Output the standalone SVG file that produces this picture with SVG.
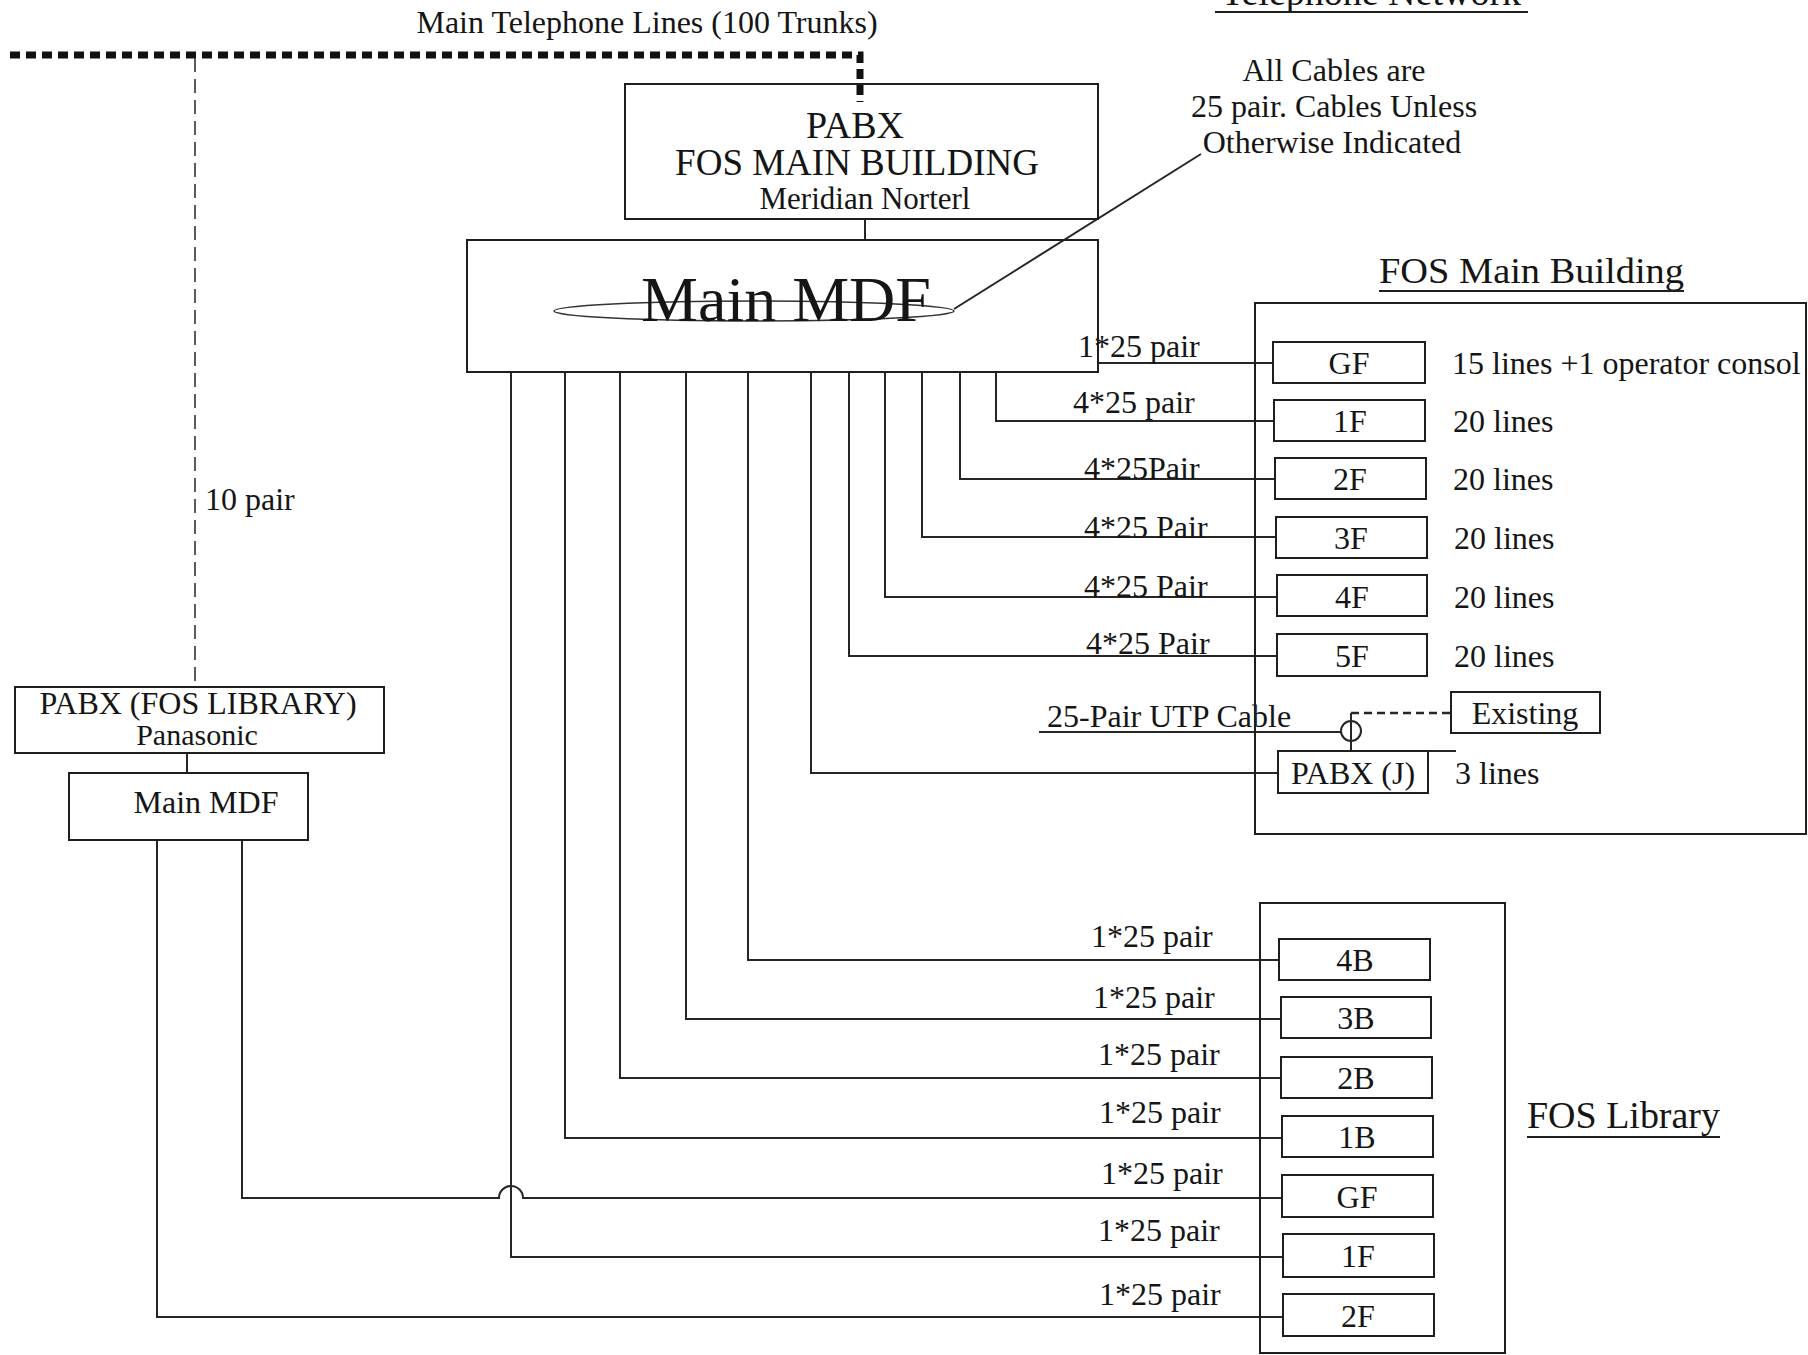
<svg xmlns="http://www.w3.org/2000/svg" width="1808" height="1355" viewBox="0 0 1808 1355">
<style>
  .t { font-family: "Liberation Serif", "Times New Roman", serif; fill: #151515; }
  .box { fill: none; stroke: #1e1e1e; stroke-width: 2; }
  .ln { fill: none; stroke: #262626; stroke-width: 2; }
  .ul { fill: none; stroke: #1e1e1e; stroke-width: 2; }
  .s32 { font-size: 32px; }
  .mid { text-anchor: middle; }
</style>
<rect x="0" y="0" width="1808" height="1355" fill="#ffffff"/>

<!-- free labels -->
<g id="title">
  <text class="t mid" x="647" y="33" font-size="32">Main Telephone Lines (100 Trunks)</text>
</g>
<g id="telephone-network">
  <text class="t mid" x="1371" y="5" font-size="38">Telephone Network</text>
  <line class="ul" x1="1215" y1="12" x2="1528" y2="12"/>
</g>
<g id="note">
  <text class="t mid s32" x="1334" y="81">All Cables are</text>
  <text class="t mid s32" x="1334" y="117">25 pair. Cables Unless</text>
  <text class="t mid s32" x="1332" y="153">Otherwise Indicated</text>
</g>
<g id="lbl-fos-main">
  <text class="t" x="1379" y="283" font-size="36" textLength="305" lengthAdjust="spacingAndGlyphs">FOS Main Building</text>
  <line class="ul" x1="1379" y1="291" x2="1684" y2="291"/>
</g>
<g id="lbl-fos-library">
  <text class="t" x="1527" y="1128" font-size="37" textLength="193" lengthAdjust="spacingAndGlyphs">FOS Library</text>
  <line class="ul" x1="1527" y1="1137" x2="1720" y2="1137"/>
</g>

<!-- connectors -->
<g id="connectors">
  <path d="M10 55 H860 V102" fill="none" stroke="#111" stroke-width="7" stroke-dasharray="10 6"/>
  <path d="M195 58 V687" fill="none" stroke="#333" stroke-width="1.6" stroke-dasharray="14 7"/>
  <path class="ln" d="M865 219 V240"/>
  <path class="ln" d="M187 753 V773"/>
  <!-- main building floors -->
  <path class="ln" d="M1098 363 H1273"/>
  <path class="ln" d="M996 372 V421 H1274"/>
  <path class="ln" d="M960 372 V479 H1275"/>
  <path class="ln" d="M922 372 V537 H1276"/>
  <path class="ln" d="M885 372 V597 H1277"/>
  <path class="ln" d="M849 372 V656 H1277"/>
  <path class="ln" d="M811 372 V773 H1278"/>
  <!-- library floors from main MDF -->
  <path class="ln" d="M748 372 V960 H1279"/>
  <path class="ln" d="M686 372 V1019 H1281"/>
  <path class="ln" d="M620 372 V1078 H1281"/>
  <path class="ln" d="M565 372 V1138 H1282"/>
  <path class="ln" d="M511 372 V1257 H1283"/>
  <!-- library floors from library MDF -->
  <path class="ln" d="M242 840 V1198 H499 A12 12 0 0 1 523 1198 H1282"/>
  <path class="ln" d="M157 840 V1317 H1283"/>
  <!-- UTP cable / existing -->
  <path class="ln" d="M1039 732 H1341"/>
  <circle cx="1351" cy="731" r="10" fill="none" stroke="#262626" stroke-width="2"/>
  <path class="ln" d="M1351 713 V751"/>
  <path class="ln" d="M1278 751 H1456"/>
  <path d="M1351 713 H1451" fill="none" stroke="#262626" stroke-width="2.5" stroke-dasharray="8 5"/>
  <!-- callout leader -->
  <path class="ln" d="M1201 154 L954 309"/>
  <ellipse cx="754" cy="311" rx="200" ry="10" fill="none" stroke="#333" stroke-width="1.6"/>
</g>

<!-- cable labels -->
<g id="cable-labels">
  <text class="t s32" x="1078" y="357">1*25 pair</text>
  <text class="t s32" x="1073" y="413">4*25 pair</text>
  <text class="t s32" x="1084" y="479">4*25Pair</text>
  <text class="t s32" x="1084" y="538">4*25 Pair</text>
  <text class="t s32" x="1084" y="597">4*25 Pair</text>
  <text class="t s32" x="1086" y="654">4*25 Pair</text>
  <text class="t s32" x="1047" y="727">25-Pair UTP Cable</text>
  <text class="t s32" x="1091" y="947">1*25 pair</text>
  <text class="t s32" x="1093" y="1008">1*25 pair</text>
  <text class="t s32" x="1098" y="1065">1*25 pair</text>
  <text class="t s32" x="1099" y="1123">1*25 pair</text>
  <text class="t s32" x="1101" y="1184">1*25 pair</text>
  <text class="t s32" x="1098" y="1241">1*25 pair</text>
  <text class="t s32" x="1099" y="1305">1*25 pair</text>
  <text class="t s32" x="205" y="510">10 pair</text>
</g>

<!-- nodes -->
<g id="pabx-main">
  <rect class="box" x="625" y="84" width="473" height="135"/>
  <text class="t mid" x="855" y="138" font-size="38">PABX</text>
  <text class="t mid" x="857" y="175" font-size="37">FOS MAIN BUILDING</text>
  <text class="t mid" x="865" y="209" font-size="31">Meridian Norterl</text>
</g>
<g id="main-mdf">
  <rect class="box" x="467" y="240" width="631" height="132"/>
  <text class="t mid" x="786" y="321" font-size="64">Main MDF</text>
</g>
<g id="pabx-library">
  <rect class="box" x="15" y="687" width="369" height="66"/>
  <text class="t mid" x="198" y="714" font-size="32">PABX (FOS LIBRARY)</text>
  <text class="t mid" x="197" y="745" font-size="30">Panasonic</text>
</g>
<g id="library-mdf">
  <rect class="box" x="69" y="773" width="239" height="67"/>
  <text class="t mid s32" x="206" y="813">Main MDF</text>
</g>

<g id="fos-main-building">
  <rect class="box" x="1255" y="303" width="551" height="531"/>
</g>
<g id="mb-gf">
  <rect class="box" x="1273" y="342" width="152" height="41"/>
  <text class="t mid s32" x="1349" y="374">GF</text>
  <text class="t s32" x="1452" y="374">15 lines +1 operator consol</text>
</g>
<g id="mb-1f">
  <rect class="box" x="1274" y="400" width="151" height="41"/>
  <text class="t mid s32" x="1350" y="432">1F</text>
  <text class="t s32" x="1453" y="432">20 lines</text>
</g>
<g id="mb-2f">
  <rect class="box" x="1275" y="458" width="151" height="41"/>
  <text class="t mid s32" x="1350" y="490">2F</text>
  <text class="t s32" x="1453" y="490">20 lines</text>
</g>
<g id="mb-3f">
  <rect class="box" x="1276" y="517" width="151" height="41"/>
  <text class="t mid s32" x="1351" y="549">3F</text>
  <text class="t s32" x="1454" y="549">20 lines</text>
</g>
<g id="mb-4f">
  <rect class="box" x="1277" y="575" width="150" height="41"/>
  <text class="t mid s32" x="1352" y="608">4F</text>
  <text class="t s32" x="1454" y="608">20 lines</text>
</g>
<g id="mb-5f">
  <rect class="box" x="1277" y="634" width="150" height="42"/>
  <text class="t mid s32" x="1352" y="667">5F</text>
  <text class="t s32" x="1454" y="667">20 lines</text>
</g>
<g id="existing">
  <rect class="box" x="1451" y="692" width="149" height="41"/>
  <text class="t mid s32" x="1525" y="724">Existing</text>
</g>
<g id="mb-pabx-j">
  <rect class="box" x="1278" y="751" width="150" height="42"/>
  <text class="t mid s32" x="1353" y="784">PABX (J)</text>
  <text class="t s32" x="1455" y="784">3 lines</text>
</g>

<g id="fos-library">
  <rect class="box" x="1260" y="903" width="245" height="450"/>
</g>
<g id="lib-4b">
  <rect class="box" x="1279" y="939" width="151" height="41"/>
  <text class="t mid s32" x="1355" y="971">4B</text>
</g>
<g id="lib-3b">
  <rect class="box" x="1281" y="997" width="150" height="41"/>
  <text class="t mid s32" x="1356" y="1029">3B</text>
</g>
<g id="lib-2b">
  <rect class="box" x="1281" y="1057" width="151" height="41"/>
  <text class="t mid s32" x="1356" y="1089">2B</text>
</g>
<g id="lib-1b">
  <rect class="box" x="1282" y="1116" width="151" height="41"/>
  <text class="t mid s32" x="1357" y="1148">1B</text>
</g>
<g id="lib-gf">
  <rect class="box" x="1282" y="1175" width="151" height="42"/>
  <text class="t mid s32" x="1357" y="1208">GF</text>
</g>
<g id="lib-1f">
  <rect class="box" x="1283" y="1234" width="151" height="43"/>
  <text class="t mid s32" x="1358" y="1267">1F</text>
</g>
<g id="lib-2f">
  <rect class="box" x="1283" y="1294" width="151" height="42"/>
  <text class="t mid s32" x="1358" y="1327">2F</text>
</g>
</svg>
